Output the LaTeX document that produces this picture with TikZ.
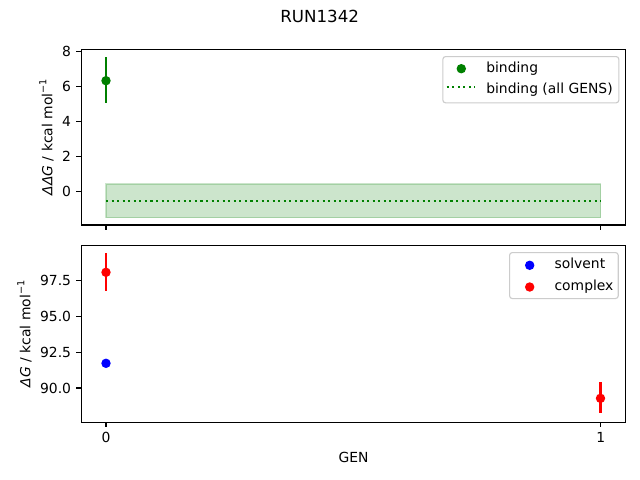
\documentclass[tikz,border=0pt]{standalone}
\usepackage{fontspec}
\setmainfont{DejaVu Sans}
\newcommand{\supminus}{\raisebox{0.42em}{\fontsize{7}{8}\selectfont −1}}
\begin{document}
\begin{tikzpicture}[x=0.72pt,y=-0.72pt,
  axbox/.style={draw=black,line width=0.8pt},
  tickln/.style={draw=black,line width=0.8pt},
  ticklab/.style={font=\fontsize{10}{12}\selectfont,inner sep=0pt},
  lab/.style={font=\fontsize{10}{12}\selectfont,inner sep=0pt},
  legbox/.style={draw=black!20,fill=white,fill opacity=0.8,draw opacity=1,rounded corners=2pt,line width=0.8pt},
  errln/.style={line width=1.5pt},
  dotcirc/.style={circle,inner sep=0pt,minimum size=6.8pt}
]
\useasboundingbox (0,0) rectangle (640,480);
\fill[white] (0,0) rectangle (640,480);

% title
\node[font=\fontsize{12}{14}\selectfont,inner sep=0pt,anchor=base] (title) at (319.7,22.7) {RUN1342};

% ===== top axes =====
\fill[green!50!black,fill opacity=0.2] (106,184) rectangle (600.7,217.7);
\draw[green!50!black,opacity=0.2,line width=1pt] (106,184) rectangle (600.7,217.7);
\coordinate (dl0) at (106,201);
\coordinate (dl1) at (600.7,201);
\draw[green!50!black,line width=1.5pt,dash pattern=on 1.5pt off 2.5pt] (dl0) -- (dl1);
\coordinate (ge0) at (106,57.3);
\coordinate (ge1) at (106,103.3);
\draw[errln,green!50!black] (ge0) -- (ge1);
\node[dotcirc,fill=green!50!black] (gp) at (106,80.7) {};

\draw[axbox] (81.3,49.3) rectangle (625.7,225);
\foreach \v/\t in {8/8,6/6,4/4,2/2,0/0}{
  \pgfmathsetmacro\yy{191.3-17.5*\v}
  \draw[tickln] (81.3,\yy) -- (76.4,\yy);
  \node[ticklab,anchor=base east] at (71.3,\yy+5.05) {\t};
}
\draw[tickln] (106,225) -- (106,229.9);
\draw[tickln] (600.7,225) -- (600.7,229.9);
\node[lab,rotate=90] (yl1) at (46.5,137.2) {\textit{ΔΔG} / kcal mol\supminus};

\node[legbox,minimum width=176pt*0.72,minimum height=46.3pt*0.72,anchor=north west] (leg1) at (442.3,56) {};
\node[dotcirc,fill=green!50!black] (lm1) at (461.3,68.7) {};
\node[lab,anchor=base west] (lt1) at (486,72.3) {binding};
\coordinate (ll0) at (446.7,87.4);
\coordinate (ll1) at (475,87.4);
\draw[green!50!black,line width=1.5pt,dash pattern=on 1.5pt off 2.5pt] (ll0) -- (ll1);
\node[lab,anchor=base west] (lt2) at (486,93.3) {binding (all GENS)};

% ===== bottom axes =====
\coordinate (re0) at (106,253);
\coordinate (re1) at (106,290.7);
\draw[errln,red] (re0) -- (re1);
\node[dotcirc,fill=red] (rp0) at (106,272.3) {};
\node[dotcirc,fill=blue] (bp0) at (106,363.3) {};
\coordinate (rf0) at (600.5,382);
\coordinate (rf1) at (600.5,413.3);
\draw[errln,red] (rf0) -- (rf1);
\node[dotcirc,fill=red] (rp1) at (600.5,398.3) {};

\draw[axbox] (81.3,245.3) rectangle (625.7,422.3);
\foreach \v/\t in {97.5/97.5,95/95.0,92.5/92.5,90/90.0}{
  \pgfmathsetmacro\yy{388-14.28*(\v-90)}
  \draw[tickln] (81.3,\yy) -- (76.4,\yy);
  \node[ticklab,anchor=base east] at (71.3,\yy+5.05) {\t};
}
\draw[tickln] (106,422.3) -- (106,427.2);
\draw[tickln] (600.7,422.3) -- (600.7,427.2);
\node[ticklab,anchor=base] (xt0) at (106,442) {0};
\node[ticklab,anchor=base] (xt1) at (600.7,442) {1};
\node[lab,anchor=base] (xl) at (353.5,462.3) {GEN};
\node[lab,rotate=90] (yl2) at (24.5,333.8) {\textit{ΔG} / kcal mol\supminus};

\node[legbox,minimum width=108.7pt*0.72,minimum height=46pt*0.72,anchor=north west] (leg2) at (509,252) {};
\node[dotcirc,fill=blue] (lm2) at (529.7,265.3) {};
\node[lab,anchor=base west] (lt3) at (554.3,268.7) {solvent};
\node[dotcirc,fill=red] (lm3) at (529.7,287) {};
\node[lab,anchor=base west] (lt4) at (554.3,290.3) {complex};
\end{tikzpicture}
\end{document}
